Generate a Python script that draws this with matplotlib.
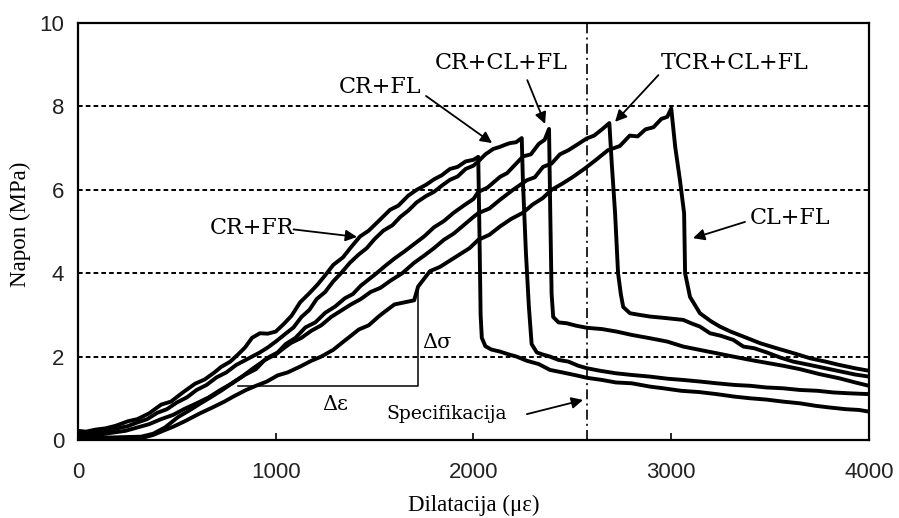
import matplotlib
matplotlib.use("Agg")
import matplotlib.pyplot as plt

# Stress–strain records (strain in microstrain, stress in MPa)
cr_fr = [
    (0, 0.22), (40, 0.20), (90, 0.25), (140, 0.28), (190, 0.34), (253, 0.45), (300, 0.50),
    (360, 0.64), (421, 0.85), (470, 0.92), (530, 1.14), (592, 1.35), (640, 1.45), (690, 1.62),
    (723, 1.75), (770, 1.88), (809, 2.05), (845, 2.22), (880, 2.45), (920, 2.56), (960, 2.55),
    (1000, 2.60), (1040, 2.78), (1080, 2.98), (1123, 3.30), (1170, 3.52), (1210, 3.72),
    (1250, 3.95), (1291, 4.20), (1340, 4.38), (1380, 4.62), (1426, 4.88), (1470, 5.02),
    (1520, 5.25), (1578, 5.52), (1620, 5.62), (1670, 5.86), (1713, 6.00), (1760, 6.12),
    (1800, 6.25), (1840, 6.35), (1881, 6.50), (1920, 6.55), (1960, 6.68), (2000, 6.72),
    (2024, 6.79), (2030, 5.00), (2036, 3.00), (2042, 2.45), (2060, 2.25), (2090, 2.17),
    (2134, 2.12), (2180, 2.05), (2218, 2.00), (2270, 1.90), (2330, 1.82), (2387, 1.68),
    (2450, 1.62), (2520, 1.55), (2575, 1.49), (2650, 1.44), (2720, 1.38), (2800, 1.36),
    (2893, 1.28), (2960, 1.24), (3050, 1.18), (3140, 1.15), (3230, 1.10), (3320, 1.04),
    (3400, 1.00), (3480, 0.97), (3566, 0.92), (3650, 0.88), (3730, 0.82), (3800, 0.78),
    (3880, 0.74), (3950, 0.72), (4000, 0.68),
]

cr_fl = [
    (0, 0.18), (50, 0.17), (100, 0.20), (150, 0.22), (200, 0.28), (250, 0.33), (300, 0.42),
    (350, 0.50), (400, 0.65), (450, 0.74), (500, 0.90), (550, 1.02), (600, 1.20), (650, 1.32),
    (700, 1.50), (750, 1.62), (800, 1.80), (840, 1.90), (880, 2.00), (920, 2.10), (960, 2.22),
    (1000, 2.36), (1050, 2.55), (1090, 2.70), (1130, 2.95), (1170, 3.12), (1207, 3.38),
    (1250, 3.55), (1290, 3.80), (1330, 4.00), (1375, 4.25), (1420, 4.45), (1460, 4.60),
    (1500, 4.82), (1544, 5.02), (1590, 5.15), (1630, 5.35), (1670, 5.50), (1713, 5.70),
    (1760, 5.85), (1800, 5.95), (1840, 6.10), (1881, 6.24), (1920, 6.32), (1960, 6.50),
    (2000, 6.58), (2024, 6.68), (2060, 6.85), (2100, 6.98), (2134, 7.03), (2160, 7.08),
    (2185, 7.12), (2215, 7.14), (2244, 7.24), (2250, 6.20), (2265, 4.50), (2280, 3.20),
    (2294, 2.30), (2320, 2.10), (2350, 2.05), (2387, 2.00), (2430, 1.92), (2480, 1.88),
    (2530, 1.78), (2575, 1.72), (2640, 1.66), (2720, 1.60), (2800, 1.56), (2893, 1.52),
    (2980, 1.47), (3060, 1.44), (3150, 1.40), (3230, 1.36), (3320, 1.32), (3400, 1.30),
    (3480, 1.26), (3566, 1.24), (3650, 1.20), (3740, 1.18), (3820, 1.14), (3900, 1.12),
    (4000, 1.10),
]

cr_cl_fl = [
    (0, 0.12), (60, 0.12), (120, 0.14), (180, 0.18), (240, 0.22), (300, 0.30), (360, 0.38),
    (420, 0.50), (480, 0.60), (540, 0.75), (600, 0.88), (660, 1.02), (720, 1.20), (780, 1.36),
    (830, 1.52), (880, 1.70), (925, 1.85), (970, 2.00), (1010, 2.10), (1050, 2.30),
    (1100, 2.45), (1150, 2.70), (1200, 2.82), (1250, 3.05), (1300, 3.20), (1350, 3.40),
    (1390, 3.50), (1430, 3.70), (1470, 3.85), (1510, 4.00), (1560, 4.20), (1600, 4.35),
    (1650, 4.52), (1700, 4.70), (1750, 4.88), (1800, 5.10), (1850, 5.25), (1900, 5.45),
    (1950, 5.62), (2000, 5.78), (2024, 5.95), (2070, 6.05), (2134, 6.31), (2170, 6.40),
    (2200, 6.55), (2250, 6.80), (2290, 6.85), (2330, 7.10), (2360, 7.20), (2382, 7.46),
    (2388, 5.50), (2395, 3.50), (2403, 2.95), (2430, 2.82), (2471, 2.80), (2520, 2.74),
    (2575, 2.69), (2650, 2.66), (2724, 2.60), (2800, 2.52), (2893, 2.44), (2980, 2.36),
    (3061, 2.24), (3145, 2.16), (3230, 2.08), (3314, 2.00), (3400, 1.92), (3483, 1.85),
    (3566, 1.78), (3650, 1.70), (3750, 1.58), (3850, 1.48), (3930, 1.38), (4000, 1.30),
]

tcr_cl_fl = [
    (0, 0.08), (80, 0.07), (160, 0.06), (240, 0.07), (320, 0.08), (380, 0.15), (440, 0.30),
    (506, 0.55), (560, 0.70), (620, 0.88), (673, 1.03), (730, 1.20), (790, 1.40), (843, 1.56),
    (900, 1.70), (944, 1.92), (1000, 2.05), (1040, 2.20), (1078, 2.33), (1130, 2.45),
    (1180, 2.62), (1230, 2.75), (1280, 2.95), (1330, 3.10), (1380, 3.25), (1430, 3.38),
    (1480, 3.55), (1530, 3.65), (1580, 3.82), (1640, 4.00), (1700, 4.25), (1750, 4.42),
    (1800, 4.60), (1850, 4.80), (1900, 4.95), (1950, 5.15), (2000, 5.35), (2024, 5.44),
    (2080, 5.55), (2134, 5.76), (2200, 6.00), (2270, 6.23), (2310, 6.30), (2352, 6.55),
    (2395, 6.63), (2437, 6.85), (2480, 6.95), (2530, 7.10), (2572, 7.23), (2610, 7.30),
    (2650, 7.45), (2687, 7.60), (2699, 6.64), (2716, 5.44), (2731, 4.00), (2745, 3.50),
    (2757, 3.19), (2791, 3.04), (2840, 3.00), (2893, 2.96), (2960, 2.93), (3020, 2.90),
    (3061, 2.88), (3100, 2.80), (3145, 2.72), (3196, 2.56), (3250, 2.50), (3314, 2.40),
    (3365, 2.24), (3420, 2.20), (3483, 2.10), (3550, 1.98), (3617, 1.88), (3700, 1.80),
    (3780, 1.72), (3860, 1.64), (3930, 1.57), (4000, 1.52),
]

cl_fl = [
    (0, 0.05), (80, 0.05), (160, 0.04), (240, 0.05), (300, 0.06), (340, 0.07), (380, 0.12),
    (430, 0.22), (482, 0.32), (540, 0.45), (617, 0.64), (680, 0.78), (740, 0.92), (785, 1.04),
    (850, 1.20), (900, 1.30), (954, 1.40), (1010, 1.55), (1060, 1.62), (1123, 1.76),
    (1180, 1.90), (1230, 2.00), (1290, 2.16), (1340, 2.35), (1375, 2.48), (1420, 2.65),
    (1470, 2.75), (1520, 2.96), (1544, 3.05), (1600, 3.25), (1650, 3.30), (1700, 3.35),
    (1720, 3.68), (1780, 4.05), (1830, 4.15), (1880, 4.30), (1930, 4.45), (1980, 4.60),
    (2024, 4.80), (2080, 4.92), (2134, 5.12), (2190, 5.30), (2250, 5.45), (2300, 5.65),
    (2350, 5.80), (2395, 6.00), (2450, 6.15), (2500, 6.30), (2560, 6.50), (2620, 6.72),
    (2680, 6.95), (2740, 7.05), (2790, 7.30), (2830, 7.28), (2870, 7.45), (2910, 7.50),
    (2950, 7.70), (2980, 7.75), (3000, 7.95), (3020, 7.03), (3044, 6.23), (3065, 5.44),
    (3070, 4.00), (3095, 3.43), (3145, 3.04), (3200, 2.85), (3246, 2.72), (3300, 2.60),
    (3365, 2.48), (3450, 2.32), (3533, 2.20), (3620, 2.08), (3702, 1.96), (3780, 1.88),
    (3850, 1.80), (3930, 1.72), (4000, 1.66),
]

curves = [cr_fr, cr_fl, cr_cl_fl, tcr_cl_fl, cl_fl]

x_ticks = [0, 1000, 2000, 3000, 4000]
y_ticks = [0, 2, 4, 6, 8, 10]
grid_levels = [2, 4, 6, 8]
spec_strain = 2575

# Modulus construction: Δε along the base, Δσ up the side
delta_eps = (809, 1719)
delta_base = 1.29
delta_top = 3.65

# (label, text position, arrow tip, arrow tail, font size)
labels = [
    ("CR+FR", (882, 5.08), (1411, 4.87), (1090, 5.05), 16),
    ("CR+FL", (1525, 8.47), (2094, 7.12), (1760, 8.25), 16),
    ("CR+CL+FL", (2139, 9.04), (2362, 7.58), (2272, 8.63), 16),
    ("TCR+CL+FL", (3322, 9.04), (2716, 7.63), (2935, 8.75), 16),
    ("CL+FL", (3600, 5.32), (3110, 4.84), (3373, 5.23), 16),
    ("Specifikacija", (1866, 0.62), (2554, 0.96), (2270, 0.62), 13.5),
]

serif_lbl = "Liberation Serif"
serif_ann = "DejaVu Serif"
sans_tick = "Liberation Sans"

fig = plt.figure(figsize=(8.99, 5.18), dpi=100)
ax = fig.add_axes([0.08676, 0.15058, 0.87987, 0.80502])

for lvl in grid_levels:
    ax.axhline(lvl, color="black", lw=1.4, linestyle=(0, (2.4, 1.6)), zorder=1)
ax.axvline(spec_strain, color="black", lw=1.2, linestyle=(0, (6, 2.5, 1.2, 2.5)), zorder=1)

for c in curves:
    xs = [p[0] for p in c]
    ys = [p[1] for p in c]
    ax.plot(xs, ys, color="black", lw=2.8, solid_joinstyle="round", zorder=3)

ax.plot([delta_eps[0], delta_eps[1], delta_eps[1]], [delta_base, delta_base, delta_top],
        color="black", lw=1.1, zorder=2)
ax.text(1815, 2.33, "Δσ", fontsize=15, family=serif_ann, ha="center", va="center")
ax.text(1300, 0.84, "Δε", fontsize=15, family=serif_ann, ha="center", va="center")

for text, pos, tip, tail, size in labels:
    ax.text(pos[0], pos[1], text, fontsize=size, family=serif_ann, ha="center", va="center")
    ax.annotate("", xy=tip, xytext=tail,
                arrowprops=dict(arrowstyle="-|>", color="black", lw=1.3, mutation_scale=17,
                                shrinkA=0, shrinkB=0))

ax.set_xlim(0, 4000)
ax.set_ylim(0, 10)
ax.set_xticks(x_ticks)
ax.set_yticks(y_ticks)
ax.tick_params(axis="x", direction="in", length=5, width=1.2, pad=16, labelsize=16)
ax.tick_params(axis="y", length=0, pad=10, labelsize=16)
for lab in ax.get_xticklabels() + ax.get_yticklabels():
    lab.set_family(sans_tick)
    lab.set_color("#222222")

for s in ax.spines.values():
    s.set_linewidth(1.6)
    s.set_color("black")

ax.set_xlabel("Dilatacija (με)", fontsize=16.5, family=serif_lbl)
ax.xaxis.set_label_coords(0.5, -0.156)
ax.xaxis.label.set_verticalalignment("center")
ax.set_ylabel("Napon (MPa)", fontsize=16.5, family=serif_lbl)
ax.yaxis.set_label_coords(-0.0733, 0.518)
ax.yaxis.label.set_verticalalignment("center")

fig.savefig("out.png", dpi=100)
